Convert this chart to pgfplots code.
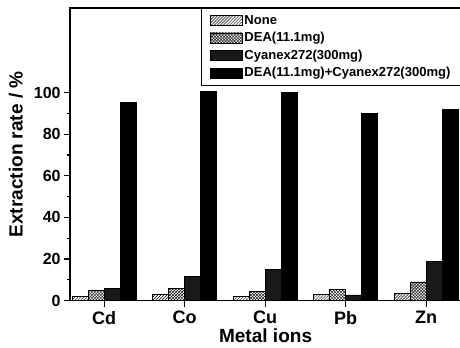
\documentclass[border=0pt]{standalone}
\usepackage{pgfplots}
\pgfplotsset{compat=1.18}
\usetikzlibrary{patterns}
\usepackage{fontspec}
\setmainfont{Liberation Sans}
\begin{document}
\begin{tikzpicture}
\begin{axis}[
  name=ax,
  scale only axis,
  width=390pt, height=292pt,
  ybar=0pt, bar width=16pt,
  xmin=-0.423, xmax=4.433,
  ymin=0, ymax=140.7,
  xtick=data,
  xticklabels={Cd,Co,Cu,Pb,Zn},
  ytick={0,20,40,60,80,100},
  minor y tick num=1,
  tick align=outside,
  xtick pos=bottom, ytick pos=left,
  major tick length=6pt, minor tick length=3pt,
  axis line style={line width=1.4pt},
  tick style={line width=1.2pt, black},
  /pgf/number format/assume math mode=true,
  x tick label style={font=\fontsize{18}{20}\selectfont\bfseries, yshift=-1pt},
  y tick label style={font=\fontsize{16}{18}\selectfont\bfseries},
  xlabel={Metal ions},
  ylabel={Extraction rate / \%},
  label style={font=\fontsize{19}{22}\selectfont\bfseries},
  xlabel style={yshift=3pt},
  ylabel style={yshift=4pt},
  legend style={at={(rel axis cs:1,1)}, anchor=north east,
    font=\fontsize{13}{15}\selectfont\bfseries, draw=black, line width=1pt,
    inner xsep=8pt, inner ysep=5pt, row sep=2.5pt,
    legend cell align=left},
  legend image code/.code={\draw[#1, line width=0.6pt] (0pt,-5pt) rectangle (32pt,5pt);},
]
\addplot[draw=black, line width=0.6pt, pattern=north east lines] coordinates {(0,2) (1,3) (2,2) (3,3) (4,3.5)};
\addplot[draw=black, line width=0.6pt, pattern=crosshatch] coordinates {(0,5) (1,6) (2,4.5) (3,5.5) (4,9)};
\addplot[draw=black, line width=0.6pt, fill=black!90] coordinates {(0,6) (1,11.5) (2,15) (3,2.8) (4,19)};
\addplot[draw=black, line width=0.6pt, fill=black] coordinates {(0,95.5) (1,100.5) (2,100) (3,90) (4,92)};
\legend{None, DEA(11.1mg), Cyanex272(300mg), DEA(11.1mg)+Cyanex272(300mg)}
\end{axis}
\pgfresetboundingbox
\path ([shift={(-70pt,-47pt)}]ax.south west) rectangle ([shift={(-1pt,8pt)}]ax.north east);
\end{tikzpicture}
\end{document}
